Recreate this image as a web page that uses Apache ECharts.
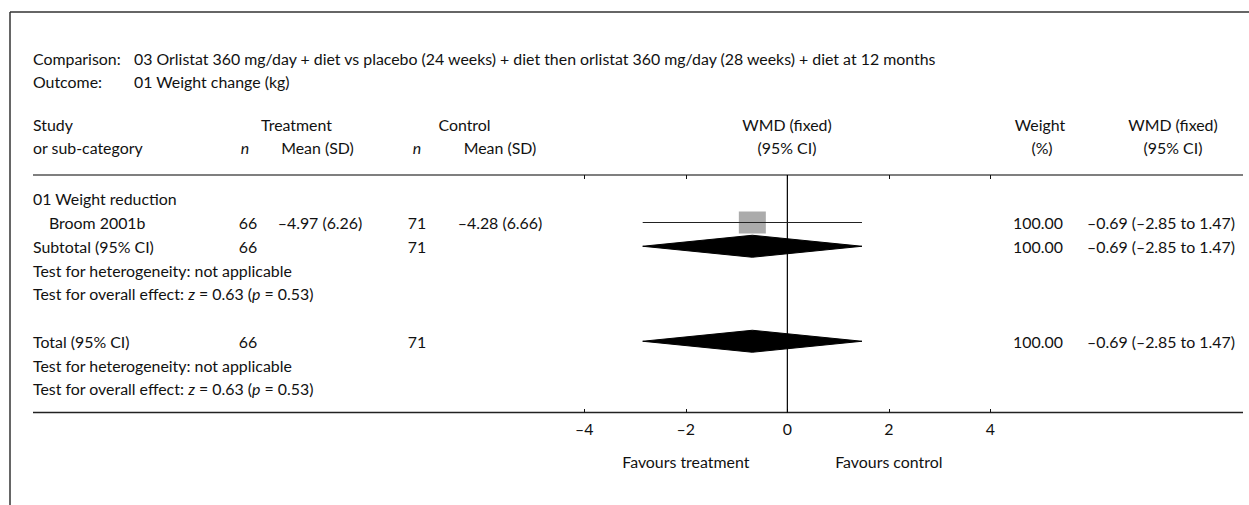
<!DOCTYPE html>
<html>
<head>
<meta charset="utf-8">
<script src="https://cdn.jsdelivr.net/npm/echarts@6/dist/echarts.min.js"></script>
<style>
html,body{margin:0;padding:0;background:#fff;}
#chart{width:1249px;height:505px;}
</style>
</head>
<body>
<div id="chart"></div>
<script>
// ---------- data ----------
const comparisonText = '03 Orlistat 360 mg/day + diet vs placebo (24 weeks) + diet then orlistat 360 mg/day (28 weeks) + diet at 12 months';
const outcomeText = '01 Weight change (kg)';
const rowLabels = [
  '01 Weight reduction',
  'Broom 2001b',
  'Subtotal (95% CI)',
  'Test for heterogeneity: not applicable',
  'Test for overall effect: {i|z} = 0.63 ({i|p} = 0.53)',
  '',
  'Total (95% CI)',
  'Test for heterogeneity: not applicable',
  'Test for overall effect: {i|z} = 0.63 ({i|p} = 0.53)'
];
const rowIndent = [0, 1, 0, 0, 0, 0, 0, 0, 0];
const treatN = ['', '66', '66', '', '', '', '66', '', ''];
const treatMeanSD = ['', '–4.97 (6.26)', '', '', '', '', '', '', ''];
const ctrlN = ['', '71', '71', '', '', '', '71', '', ''];
const ctrlMeanSD = ['', '–4.28 (6.66)', '', '', '', '', '', '', ''];
const weightPct = ['', '100.00', '100.00', '', '', '', '100.00', '', ''];
const wmd = [null, -0.69, -0.69, null, null, null, -0.69, null, null];
const ciLow = [null, -2.85, -2.85, null, null, null, -2.85, null, null];
const ciHigh = [null, 1.47, 1.47, null, null, null, 1.47, null, null];
const markType = ['', 'square', 'diamond', '', '', '', 'diamond', '', ''];
const axisMin = -4, axisMax = 4, axisInterval = 2;
const favourLabels = [[-2, 'Favours treatment'], [2, 'Favours control']];

// ---------- font fitting (match reference text widths) ----------
const FONT_FAMILY = 'Lato, "Open Sans", sans-serif';
const widthTargets = [
  [comparisonText, 818], ['WMD (fixed)', 90], ['Favours treatment', 126],
  ['Favours control', 106], ['–0.69 (–2.85 to 1.47)', 142.6], ['Treatment', 71], ['Mean (SD)', 73.5]
];
const FS = (function () {
  const c = document.createElement('canvas').getContext('2d');
  c.font = '100px ' + FONT_FAMILY;
  const ratios = widthTargets.map(t => t[1] / c.measureText(t[0]).width * 100).sort((a, b) => a - b);
  const med = ratios[Math.floor(ratios.length / 2)];
  return (isFinite(med) && med > 10 && med < 22) ? Math.round(med * 10) / 10 : 16;
})();
const TXT = '#111';
function fmt(v) { return (v < 0 ? '–' : '') + Math.abs(v).toFixed(2); }
function wmdText(i) {
  if (wmd[i] == null) return '';
  return fmt(wmd[i]) + ' (' + fmt(ciLow[i]) + ' to ' + fmt(ciHigh[i]) + ')';
}
const font = (style) => (style || '') + ' ' + FS + 'px ' + FONT_FAMILY;

// column layout (pixels)
const COL = {
  study: 33, indent: 16, treatN: 248, treatMean: 320, ctrlN: 417, ctrlMean: 500,
  weight: 1038, wmdRight: 1235
};

function txt(x, y, text, align, italic) {
  return {
    type: 'text', x: x, y: y, silent: true,
    style: {
      text: text, fill: TXT, font: font(italic ? 'italic' : ''),
      textAlign: align || 'left', align: align || 'left',
      textVerticalAlign: 'middle', verticalAlign: 'middle'
    }
  };
}

const headerGraphics = [
  // frame
  { type: 'line', shape: { x1: 10, y1: 12, x2: 1249, y2: 12 }, style: { stroke: '#333', lineWidth: 1.5 } },
  { type: 'line', shape: { x1: 10, y1: 12, x2: 10, y2: 505 }, style: { stroke: '#333', lineWidth: 1.5 } },
  // rules
  { type: 'line', shape: { x1: 33, y1: 175, x2: 1243, y2: 175 }, style: { stroke: '#555', lineWidth: 1.5 } },
  { type: 'line', shape: { x1: 33, y1: 412.5, x2: 1243, y2: 412.5 }, style: { stroke: '#222', lineWidth: 1.6 } },
  txt(33, 58.5, 'Comparison:'),
  txt(134, 58.5, comparisonText),
  txt(33, 81.5, 'Outcome:'),
  txt(134, 81.5, outcomeText),
  txt(33, 124.5, 'Study'),
  txt(33, 147.5, 'or sub-category'),
  txt(296.5, 124.5, 'Treatment', 'center'),
  txt(245, 147.5, 'n', 'center', true),
  txt(317.5, 147.5, 'Mean (SD)', 'center'),
  txt(464.5, 124.5, 'Control', 'center'),
  txt(417, 147.5, 'n', 'center', true),
  txt(500, 147.5, 'Mean (SD)', 'center'),
  txt(787, 124.5, 'WMD (fixed)', 'center'),
  txt(787, 147.5, '(95% CI)', 'center'),
  txt(1040, 124.5, 'Weight', 'center'),
  txt(1042, 147.5, '(%)', 'center'),
  txt(1173, 124.5, 'WMD (fixed)', 'center'),
  txt(1173, 147.5, '(95% CI)', 'center')
];

const rowIdx = rowLabels.map((_, i) => i);

const chart = echarts.init(document.getElementById('chart'), null, { renderer: 'svg' });

const option = {
  animation: false,
  backgroundColor: '#fff',
  textStyle: { fontFamily: FONT_FAMILY },
  grid: { left: 584.3, right: 1249 - 990.4, top: 175, bottom: 505 - 412.5, containLabel: false },
  xAxis: [{
    type: 'value', min: axisMin, max: axisMax, interval: axisInterval,
    axisLine: { show: false },
    splitLine: { show: false },
    axisTick: { show: true, length: 4, lineStyle: { color: '#111', width: 1 } },
    axisLabel: {
      margin: 8, color: TXT, fontSize: FS, fontFamily: FONT_FAMILY,
      formatter: v => (v < 0 ? '–' + Math.abs(v) : String(v))
    }
  }, {
    type: 'value', min: axisMin, max: axisMax, interval: axisInterval, position: 'bottom',
    axisLine: { show: false }, splitLine: { show: false }, axisLabel: { show: false },
    axisTick: { show: true, inside: true, length: 3.5, lineStyle: { color: '#111', width: 1 } }
  }],
  yAxis: { type: 'value', inverse: true, min: 0, max: 10, show: false },
  graphic: headerGraphics,
  series: [
    // line of no effect
    {
      type: 'line', data: [[0, 0], [0, 10]], symbol: 'none', silent: true,
      lineStyle: { color: '#000', width: 1.2 }, z: 1
    },
    // study squares
    {
      type: 'scatter', symbol: 'rect', symbolSize: [27, 22], silent: true, z: 2,
      itemStyle: { color: '#969696' },
      data: rowIdx.filter(i => markType[i] === 'square').map(i => [wmd[i], i + 1])
    },
    // CI lines
    {
      type: 'custom', z: 3, silent: true,
      data: rowIdx.filter(i => markType[i] === 'square').map(i => [ciLow[i], ciHigh[i], i + 1]),
      renderItem: (params, api) => {
        const a = api.coord([api.value(0), api.value(2)]);
        const b = api.coord([api.value(1), api.value(2)]);
        return { type: 'line', shape: { x1: a[0], y1: a[1], x2: b[0], y2: b[1] }, style: { stroke: '#222', lineWidth: 1 } };
      }
    },
    // pooled diamonds
    {
      type: 'custom', z: 3, silent: true,
      data: rowIdx.filter(i => markType[i] === 'diamond').map(i => [ciLow[i], wmd[i], ciHigh[i], i + 1]),
      renderItem: (params, api) => {
        const r = api.value(3);
        const l = api.coord([api.value(0), r]);
        const m = api.coord([api.value(1), r]);
        const h = api.coord([api.value(2), r]);
        const hh = 11;
        return {
          type: 'polygon',
          shape: { points: [[l[0], l[1]], [m[0], m[1] - hh], [h[0], h[1]], [m[0], m[1] + hh]] },
          style: { fill: '#000', stroke: '#000', lineWidth: 1 }
        };
      }
    },
    // table text rows
    {
      type: 'custom', z: 5, silent: true, clip: false,
      data: rowIdx.map(i => [0, i + 1, i]),
      renderItem: (params, api) => {
        const i = api.value(2);
        const y = api.coord([0, api.value(1)])[1];
        const children = [];
        const add = (x, text, align) => {
          if (!text) return;
          children.push({
            type: 'text', x: x, y: y,
            style: {
              text: text, fill: TXT, font: font(''),
              align: align, textAlign: align, verticalAlign: 'middle', textVerticalAlign: 'middle',
              rich: { i: { fontStyle: 'italic', fontSize: FS, fontFamily: FONT_FAMILY, fill: TXT, color: TXT } }
            }
          });
        };
        add(COL.study + rowIndent[i] * COL.indent, rowLabels[i], 'left');
        add(COL.treatN, treatN[i], 'center');
        add(COL.treatMean, treatMeanSD[i], 'center');
        add(COL.ctrlN, ctrlN[i], 'center');
        add(COL.ctrlMean, ctrlMeanSD[i], 'center');
        add(COL.weight, weightPct[i], 'center');
        add(COL.wmdRight, wmdText(i), 'right');
        return { type: 'group', children: children };
      }
    },
    // favours labels
    {
      type: 'custom', z: 5, silent: true, clip: false,
      data: favourLabels.map(d => [d[0], 10, d[1]]),
      renderItem: (params, api) => {
        const p = api.coord([api.value(0), api.value(1)]);
        return {
          type: 'text', x: p[0], y: p[1] + 49,
          style: {
            text: favourLabels[params.dataIndex][1], fill: TXT, font: font(''),
            align: 'center', textAlign: 'center', verticalAlign: 'middle', textVerticalAlign: 'middle'
          }
        };
      }
    }
  ]
};
chart.setOption(option);
</script>
</body>
</html>
